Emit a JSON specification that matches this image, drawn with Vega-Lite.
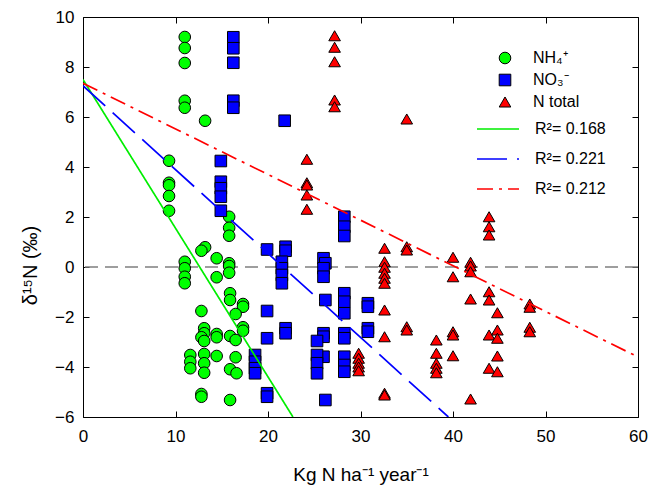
{
  "$schema": "https://vega.github.io/schema/vega-lite/v6.json",
  "width": 555,
  "height": 400,
  "autosize": {"type": "none"},
  "padding": {"left": 83, "top": 17, "right": 11, "bottom": 73},
  "background": "white",
  "config": {
    "font": "Liberation Sans",
    "view": {"stroke": null},
    "axis": {
      "grid": false,
      "domainColor": "black",
      "domainWidth": 1,
      "tickColor": "black",
      "tickSize": -6,
      "tickWidth": 1,
      "labelColor": "black",
      "labelFont": "Liberation Sans",
      "labelFontSize": 17,
      "labelFlush": false,
      "labelOverlap": false,
      "titleColor": "black",
      "titleFont": "Liberation Sans",
      "titleFontSize": 19,
      "titleFontWeight": "normal"
    },
    "axisX": {"labelPadding": 17},
    "axisY": {"labelPadding": 15},
    "legend": {
      "labelFont": "Liberation Sans",
      "labelFontSize": 16,
      "labelColor": "black",
      "padding": 0
    }
  },
  "datasets": {
    "pts": [
      {"series": "NH₄⁺", "x": 11.0, "y": 9.2},
      {"series": "NH₄⁺", "x": 11.0, "y": 8.76},
      {"series": "NH₄⁺", "x": 11.0, "y": 8.16},
      {"series": "NH₄⁺", "x": 11.0, "y": 6.65},
      {"series": "NH₄⁺", "x": 11.0, "y": 6.37},
      {"series": "NH₄⁺", "x": 11.0, "y": 0.21},
      {"series": "NH₄⁺", "x": 11.0, "y": -0.05},
      {"series": "NH₄⁺", "x": 11.0, "y": -0.39},
      {"series": "NH₄⁺", "x": 11.0, "y": -0.65},
      {"series": "NH₄⁺", "x": 13.2, "y": 5.85},
      {"series": "NH₄⁺", "x": 9.3, "y": 4.25},
      {"series": "NH₄⁺", "x": 9.3, "y": 3.37},
      {"series": "NH₄⁺", "x": 9.3, "y": 3.27},
      {"series": "NH₄⁺", "x": 9.3, "y": 2.84},
      {"series": "NH₄⁺", "x": 9.3, "y": 2.25},
      {"series": "NH₄⁺", "x": 15.8, "y": 2.01},
      {"series": "NH₄⁺", "x": 15.8, "y": 1.57},
      {"series": "NH₄⁺", "x": 15.8, "y": 1.25},
      {"series": "NH₄⁺", "x": 15.8, "y": 0.15},
      {"series": "NH₄⁺", "x": 15.8, "y": 0.04},
      {"series": "NH₄⁺", "x": 15.8, "y": -0.23},
      {"series": "NH₄⁺", "x": 15.9, "y": -1.05},
      {"series": "NH₄⁺", "x": 15.9, "y": -1.32},
      {"series": "NH₄⁺", "x": 15.9, "y": -2.76},
      {"series": "NH₄⁺", "x": 15.9, "y": -4.09},
      {"series": "NH₄⁺", "x": 15.9, "y": -5.32},
      {"series": "NH₄⁺", "x": 13.2, "y": 0.79},
      {"series": "NH₄⁺", "x": 12.8, "y": 0.65},
      {"series": "NH₄⁺", "x": 14.45, "y": 0.35},
      {"series": "NH₄⁺", "x": 14.45, "y": -0.41},
      {"series": "NH₄⁺", "x": 14.45, "y": -2.68},
      {"series": "NH₄⁺", "x": 14.45, "y": -2.81},
      {"series": "NH₄⁺", "x": 14.45, "y": -3.56},
      {"series": "NH₄⁺", "x": 17.3, "y": -1.48},
      {"series": "NH₄⁺", "x": 17.3, "y": -1.59},
      {"series": "NH₄⁺", "x": 17.3, "y": -2.41},
      {"series": "NH₄⁺", "x": 17.3, "y": -2.55},
      {"series": "NH₄⁺", "x": 16.5, "y": -1.88},
      {"series": "NH₄⁺", "x": 16.5, "y": -2.92},
      {"series": "NH₄⁺", "x": 16.5, "y": -3.61},
      {"series": "NH₄⁺", "x": 16.6, "y": -4.25},
      {"series": "NH₄⁺", "x": 12.8, "y": -1.76},
      {"series": "NH₄⁺", "x": 12.8, "y": -5.08},
      {"series": "NH₄⁺", "x": 12.8, "y": -5.19},
      {"series": "NH₄⁺", "x": 13.1, "y": -2.45},
      {"series": "NH₄⁺", "x": 13.1, "y": -2.65},
      {"series": "NH₄⁺", "x": 12.8, "y": -2.81},
      {"series": "NH₄⁺", "x": 13.1, "y": -2.96},
      {"series": "NH₄⁺", "x": 13.1, "y": -3.48},
      {"series": "NH₄⁺", "x": 13.1, "y": -3.85},
      {"series": "NH₄⁺", "x": 13.1, "y": -4.23},
      {"series": "NH₄⁺", "x": 11.6, "y": -3.52},
      {"series": "NH₄⁺", "x": 11.6, "y": -3.79},
      {"series": "NH₄⁺", "x": 11.6, "y": -4.05},
      {"series": "NO₃⁻", "x": 16.25, "y": 9.19},
      {"series": "NO₃⁻", "x": 16.25, "y": 8.75},
      {"series": "NO₃⁻", "x": 16.25, "y": 8.17},
      {"series": "NO₃⁻", "x": 16.25, "y": 6.65},
      {"series": "NO₃⁻", "x": 16.25, "y": 6.37},
      {"series": "NO₃⁻", "x": 14.9, "y": 4.24},
      {"series": "NO₃⁻", "x": 14.9, "y": 3.41},
      {"series": "NO₃⁻", "x": 14.9, "y": 3.15},
      {"series": "NO₃⁻", "x": 14.9, "y": 2.81},
      {"series": "NO₃⁻", "x": 14.9, "y": 2.25},
      {"series": "NO₃⁻", "x": 21.8, "y": 5.85},
      {"series": "NO₃⁻", "x": 19.9, "y": 0.7},
      {"series": "NO₃⁻", "x": 19.9, "y": -1.76},
      {"series": "NO₃⁻", "x": 19.9, "y": -2.85},
      {"series": "NO₃⁻", "x": 19.9, "y": -5.05},
      {"series": "NO₃⁻", "x": 19.9, "y": -5.19},
      {"series": "NO₃⁻", "x": 21.9, "y": 0.81},
      {"series": "NO₃⁻", "x": 21.9, "y": 0.65},
      {"series": "NO₃⁻", "x": 21.9, "y": -2.45},
      {"series": "NO₃⁻", "x": 21.9, "y": -2.65},
      {"series": "NO₃⁻", "x": 21.5, "y": 0.21},
      {"series": "NO₃⁻", "x": 21.5, "y": -0.05},
      {"series": "NO₃⁻", "x": 21.5, "y": -0.32},
      {"series": "NO₃⁻", "x": 21.5, "y": -0.65},
      {"series": "NO₃⁻", "x": 26.0, "y": 0.35},
      {"series": "NO₃⁻", "x": 26.2, "y": 0.15},
      {"series": "NO₃⁻", "x": 26.0, "y": -0.05},
      {"series": "NO₃⁻", "x": 26.0, "y": -0.39},
      {"series": "NO₃⁻", "x": 26.0, "y": -2.65},
      {"series": "NO₃⁻", "x": 26.0, "y": -2.79},
      {"series": "NO₃⁻", "x": 26.0, "y": -3.59},
      {"series": "NO₃⁻", "x": 26.2, "y": -1.32},
      {"series": "NO₃⁻", "x": 26.2, "y": -5.32},
      {"series": "NO₃⁻", "x": 28.25, "y": 2.01},
      {"series": "NO₃⁻", "x": 28.25, "y": 1.61},
      {"series": "NO₃⁻", "x": 28.25, "y": 1.24},
      {"series": "NO₃⁻", "x": 28.25, "y": -1.05},
      {"series": "NO₃⁻", "x": 28.25, "y": -1.39},
      {"series": "NO₃⁻", "x": 28.25, "y": -1.85},
      {"series": "NO₃⁻", "x": 28.25, "y": -2.65},
      {"series": "NO₃⁻", "x": 28.25, "y": -2.85},
      {"series": "NO₃⁻", "x": 28.25, "y": -3.59},
      {"series": "NO₃⁻", "x": 28.25, "y": -3.92},
      {"series": "NO₃⁻", "x": 28.25, "y": -4.19},
      {"series": "NO₃⁻", "x": 30.8, "y": -1.45},
      {"series": "NO₃⁻", "x": 30.8, "y": -1.59},
      {"series": "NO₃⁻", "x": 30.8, "y": -2.45},
      {"series": "NO₃⁻", "x": 30.8, "y": -2.59},
      {"series": "NO₃⁻", "x": 18.6, "y": -3.52},
      {"series": "NO₃⁻", "x": 18.6, "y": -3.79},
      {"series": "NO₃⁻", "x": 18.6, "y": -4.05},
      {"series": "NO₃⁻", "x": 18.6, "y": -4.25},
      {"series": "NO₃⁻", "x": 25.3, "y": -2.96},
      {"series": "NO₃⁻", "x": 25.3, "y": -3.52},
      {"series": "NO₃⁻", "x": 25.3, "y": -3.85},
      {"series": "NO₃⁻", "x": 25.3, "y": -4.25},
      {"series": "N total", "x": 27.2, "y": 9.25},
      {"series": "N total", "x": 27.2, "y": 8.79},
      {"series": "N total", "x": 27.2, "y": 8.21},
      {"series": "N total", "x": 27.2, "y": 6.68},
      {"series": "N total", "x": 27.2, "y": 6.41},
      {"series": "N total", "x": 35.0, "y": 5.92},
      {"series": "N total", "x": 35.0, "y": 0.81},
      {"series": "N total", "x": 35.0, "y": 0.68},
      {"series": "N total", "x": 35.0, "y": -2.39},
      {"series": "N total", "x": 35.0, "y": -2.52},
      {"series": "N total", "x": 24.2, "y": 4.31},
      {"series": "N total", "x": 24.2, "y": 3.37},
      {"series": "N total", "x": 24.2, "y": 3.28},
      {"series": "N total", "x": 24.2, "y": 2.88},
      {"series": "N total", "x": 24.2, "y": 2.31},
      {"series": "N total", "x": 32.6, "y": 0.75},
      {"series": "N total", "x": 32.6, "y": 0.21},
      {"series": "N total", "x": 32.6, "y": -0.01},
      {"series": "N total", "x": 32.6, "y": -0.25},
      {"series": "N total", "x": 32.6, "y": -0.45},
      {"series": "N total", "x": 32.6, "y": -0.65},
      {"series": "N total", "x": 32.6, "y": -1.72},
      {"series": "N total", "x": 32.6, "y": -2.79},
      {"series": "N total", "x": 32.6, "y": -5.05},
      {"series": "N total", "x": 32.6, "y": -5.12},
      {"series": "N total", "x": 40.0, "y": 0.39},
      {"series": "N total", "x": 40.0, "y": -0.39},
      {"series": "N total", "x": 40.0, "y": -2.59},
      {"series": "N total", "x": 40.0, "y": -2.72},
      {"series": "N total", "x": 40.0, "y": -3.55},
      {"series": "N total", "x": 41.9, "y": 0.19},
      {"series": "N total", "x": 41.9, "y": 0.04},
      {"series": "N total", "x": 41.9, "y": -0.19},
      {"series": "N total", "x": 41.9, "y": -1.28},
      {"series": "N total", "x": 41.9, "y": -5.28},
      {"series": "N total", "x": 38.2, "y": -2.92},
      {"series": "N total", "x": 38.2, "y": -3.45},
      {"series": "N total", "x": 38.2, "y": -3.85},
      {"series": "N total", "x": 38.2, "y": -4.05},
      {"series": "N total", "x": 38.2, "y": -4.23},
      {"series": "N total", "x": 43.9, "y": 2.01},
      {"series": "N total", "x": 43.9, "y": 1.61},
      {"series": "N total", "x": 43.9, "y": 1.28},
      {"series": "N total", "x": 43.9, "y": -0.99},
      {"series": "N total", "x": 43.9, "y": -1.32},
      {"series": "N total", "x": 43.9, "y": -2.72},
      {"series": "N total", "x": 43.9, "y": -4.05},
      {"series": "N total", "x": 44.8, "y": -1.83},
      {"series": "N total", "x": 44.8, "y": -2.52},
      {"series": "N total", "x": 44.8, "y": -2.85},
      {"series": "N total", "x": 44.8, "y": -3.56},
      {"series": "N total", "x": 44.8, "y": -4.19},
      {"series": "N total", "x": 48.3, "y": -1.48},
      {"series": "N total", "x": 48.3, "y": -1.61},
      {"series": "N total", "x": 48.3, "y": -2.41},
      {"series": "N total", "x": 48.3, "y": -2.59},
      {"series": "N total", "x": 29.8, "y": -3.45},
      {"series": "N total", "x": 29.8, "y": -3.65},
      {"series": "N total", "x": 29.8, "y": -3.85},
      {"series": "N total", "x": 29.8, "y": -4.0},
      {"series": "N total", "x": 29.8, "y": -4.15}
    ],
    "fits": [
      {"fit": "R²= 0.168", "x": 0, "y": 7.5},
      {"fit": "R²= 0.168", "x": 22.7, "y": -6},
      {"fit": "R²= 0.221", "x": 0, "y": 7.25},
      {"fit": "R²= 0.221", "x": 39.5, "y": -6},
      {"fit": "R²= 0.212", "x": 0, "y": 7.35},
      {"fit": "R²= 0.212", "x": 60, "y": -3.6}
    ],
    "zero": [{"y": 0}]
  },
  "layer": [
    {
      "layer": [
        {
          "data": {"name": "zero"},
          "mark": {"type": "rule", "color": "#7f7f7f", "strokeWidth": 1.4, "strokeDash": [13, 7]},
          "encoding": {
            "y": {"field": "y", "type": "quantitative", "title": "δ¹⁵N (‰)",
                  "scale": {"domain": [-6, 10], "nice": false, "zero": false},
                  "axis": {"values": [-6, -4, -2, 0, 2, 4, 6, 8, 10], "titleX": -47, "titleY": 248, "titleBaseline": "alphabetic", "titleFontSize": 20}}
          }
        },
        {
          "data": {"name": "pts"},
          "mark": {"type": "point", "filled": true, "opacity": 1, "stroke": "black", "strokeWidth": 1, "size": 135},
          "encoding": {
            "x": {"field": "x", "type": "quantitative", "title": "Kg N ha⁻¹ year⁻¹",
                  "scale": {"domain": [0, 60], "nice": false, "zero": false},
                  "axis": {"values": [0, 10, 20, 30, 40, 50, 60], "titleY": 63, "titleBaseline": "alphabetic"}},
            "y": {"field": "y", "type": "quantitative", "title": "δ¹⁵N (‰)",
                  "scale": {"domain": [-6, 10], "nice": false, "zero": false},
                  "axis": {"values": [-6, -4, -2, 0, 2, 4, 6, 8, 10], "titleX": -47, "titleY": 248, "titleBaseline": "alphabetic", "titleFontSize": 20}},
            "fill": {"field": "series", "type": "nominal",
                     "scale": {"domain": ["NH₄⁺", "NO₃⁻", "N total"], "range": ["#00ff00", "#0000ff", "#ff0000"]},
                     "legend": {"title": null, "orient": "none", "legendX": 414, "legendY": 33, "symbolStrokeColor": "black", "symbolStrokeWidth": 1, "symbolSize": 135, "labelOffset": 20, "rowPadding": 6}},
            "shape": {"field": "series", "type": "nominal",
                      "scale": {"domain": ["NH₄⁺", "NO₃⁻", "N total"], "range": ["circle", "square", "triangle-up"]}}
          }
        }
      ]
    },
    {
      "data": {"name": "fits"},
      "mark": {"type": "line", "clip": true, "strokeWidth": 1.7},
      "encoding": {
        "x": {"field": "x", "type": "quantitative", "title": null,
              "scale": {"domain": [0, 60], "nice": false, "zero": false},
              "axis": {"orient": "top", "labels": false, "title": null, "values": [0, 10, 20, 30, 40, 50, 60]}},
        "y": {"field": "y", "type": "quantitative", "title": null,
              "scale": {"domain": [-6, 10], "nice": false, "zero": false},
              "axis": {"orient": "right", "labels": false, "title": null, "values": [-6, -4, -2, 0, 2, 4, 6, 8, 10]}},
        "stroke": {"field": "fit", "type": "nominal",
                   "scale": {"domain": ["R²= 0.168", "R²= 0.221", "R²= 0.212"], "range": ["#00ee00", "#0000ff", "#ff0000"]},
                   "legend": {"title": null, "orient": "none", "legendX": 393, "legendY": 90, "symbolType": "stroke", "symbolSize": 1764, "symbolStrokeWidth": 1.7, "labelOffset": 15, "rowPadding": -19}},
        "strokeDash": {"field": "fit", "type": "nominal",
                       "scale": {"domain": ["R²= 0.168", "R²= 0.221", "R²= 0.212"], "range": [[1, 0], [30, 10], [16, 6, 3, 6]]}}
      }
    }
  ],
  "resolve": {"axis": {"x": "independent", "y": "independent"}}
}
